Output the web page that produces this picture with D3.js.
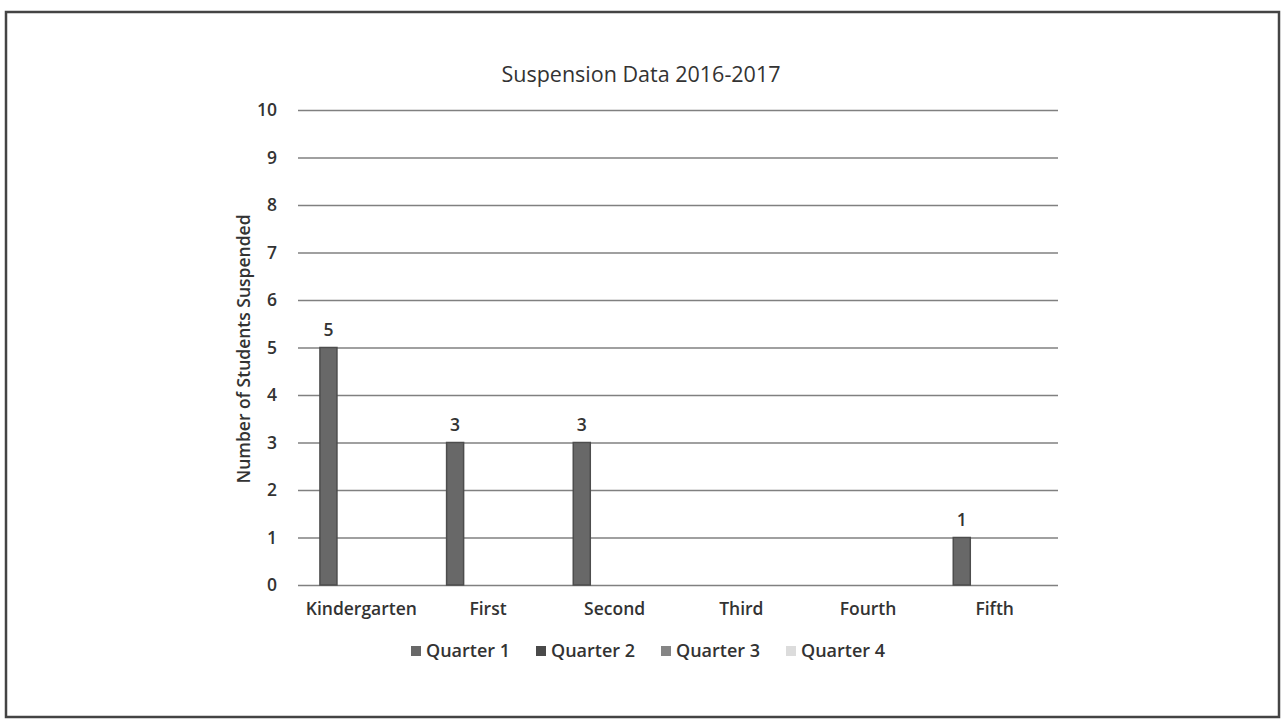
<!DOCTYPE html>
<html>
<head>
<meta charset="utf-8">
<script src="https://cdn.jsdelivr.net/npm/d3@7"></script>
<style>
  body { margin: 0; background: white; }
  text { font-family: "Open Sans", sans-serif; fill: #333; }
</style>
</head>
<body>
<svg id="chart"></svg>
<script>
// Suspension data, grouped bar by grade and quarter
var grades = ["Kindergarten", "First", "Second", "Third", "Fourth", "Fifth"];
var quarters = ["Quarter 1", "Quarter 2", "Quarter 3", "Quarter 4"];
var quarter1 = [5, 3, 3, 0, 0, 1];
var quarter2 = [0, 0, 0, 0, 0, 0];
var quarter3 = [0, 0, 0, 0, 0, 0];
var quarter4 = [0, 0, 0, 0, 0, 0];
var yTicks = [0, 1, 2, 3, 4, 5, 6, 7, 8, 9, 10];

var seriesValues = [quarter1, quarter2, quarter3, quarter4];

var dimensions = {
    width: 1283,
    height: 721,
    margin: {
        top: 110,
        bottom: 136,
        right: 225,
        left: 298
    }
}

var svg = d3.select("#chart")
    .attr("width", dimensions.width)
    .attr("height", dimensions.height);

// outer frame of the scanned figure
svg.append("rect")
    .attr("x", 6)
    .attr("y", 12)
    .attr("width", 1273)
    .attr("height", 705)
    .attr("fill", "none")
    .attr("stroke", "#444")
    .attr("stroke-width", 2.5);

var xScale = d3.scaleBand()
    .domain(grades)
    .range([dimensions.margin.left, dimensions.width - dimensions.margin.right]);

var xInner = d3.scaleBand()
    .domain(quarters)
    .range([0, xScale.bandwidth()])
    .paddingInner(0.224)
    .paddingOuter(1.0);

var yScale = d3.scaleLinear()
    .domain([0, 10])
    .range([dimensions.height - dimensions.margin.bottom, dimensions.margin.top]);

var color = d3.scaleOrdinal()
    .domain(quarters)
    .range(["#686868", "#4a4a4a", "#858585", "#dcdcdc"]);

// gridlines
svg.append("g")
    .attr("class", "grid")
    .attr("transform", `translate(${dimensions.margin.left},0)`)
    .call(d3.axisLeft(yScale).tickValues(yTicks).tickSize(-(dimensions.width - dimensions.margin.left - dimensions.margin.right)).tickFormat(""))
    .call(g => g.select(".domain").remove())
    .call(g => g.selectAll("line").attr("stroke", "#808080").attr("stroke-width", 1.7));

// y tick labels
svg.append("g")
    .attr("class", "y-axis")
    .attr("transform", `translate(${dimensions.margin.left},0)`)
    .call(d3.axisLeft(yScale).tickValues(yTicks).tickSize(0).tickPadding(21))
    .call(g => g.select(".domain").remove())
    .call(g => g.selectAll("text").style("font-size", "17.5px").style("font-weight", "600").style("font-family", "'Open Sans', sans-serif").style("fill", "#333"));

var table = [];
grades.forEach((g, i) => {
    quarters.forEach((q, j) => {
        table.push({ grade: g, quarter: q, value: seriesValues[j][i] });
    });
});

var bars = svg.append("g")
    .selectAll("rect")
    .data(table.filter(d => d.value > 0))
    .enter()
    .append("rect")
    .attr("x", d => xScale(d.grade) + xInner(d.quarter))
    .attr("y", d => yScale(d.value))
    .attr("width", xInner.bandwidth())
    .attr("height", d => yScale(0) - yScale(d.value))
    .attr("fill", d => color(d.quarter))
    .attr("stroke", "#4d4d4d")
    .attr("stroke-width", 1.5);

svg.append("g")
    .selectAll("text")
    .data(table.filter(d => d.value > 0))
    .enter()
    .append("text")
    .attr("x", d => xScale(d.grade) + xInner(d.quarter) + xInner.bandwidth() / 2)
    .attr("y", d => yScale(d.value) - 12)
    .attr("text-anchor", "middle")
    .style("font-size", "17.5px")
    .style("font-weight", "600")
    .text(d => d.value);

// x axis labels
svg.append("g")
    .attr("class", "x-axis")
    .attr("transform", `translate(0,${yScale(0)})`)
    .call(d3.axisBottom(xScale).tickSize(0).tickPadding(18))
    .call(g => g.select(".domain").remove())
    .call(g => g.selectAll("text").style("font-size", "17.5px").style("font-weight", "600").style("font-family", "'Open Sans', sans-serif").style("fill", "#333"));

// title
svg.append("text")
    .attr("x", 641)
    .attr("y", 82)
    .attr("text-anchor", "middle")
    .style("font-size", "21.5px")
    .text("Suspension Data 2016-2017");

// y label
svg.append("text")
    .attr("text-anchor", "middle")
    .attr("transform", "translate(250,349) rotate(-90)")
    .style("font-size", "17.5px")
    .style("font-weight", "600")
    .text("Number of Students Suspended");

// legend
var legend = svg.selectAll(".legend")
    .data(quarters)
    .enter()
    .append("g")
    .attr("class", "legend")
    .attr("transform", (d, i) => `translate(${411 + i * 125},651)`);

legend.append("rect")
    .attr("x", 0)
    .attr("y", -5)
    .attr("width", 10)
    .attr("height", 10)
    .attr("fill", d => color(d));

legend.append("text")
    .attr("x", 15)
    .attr("y", 0)
    .attr("dy", ".35em")
    .style("font-size", "18px")
    .style("font-weight", "600")
    .text(d => d);
</script>
</body>
</html>
